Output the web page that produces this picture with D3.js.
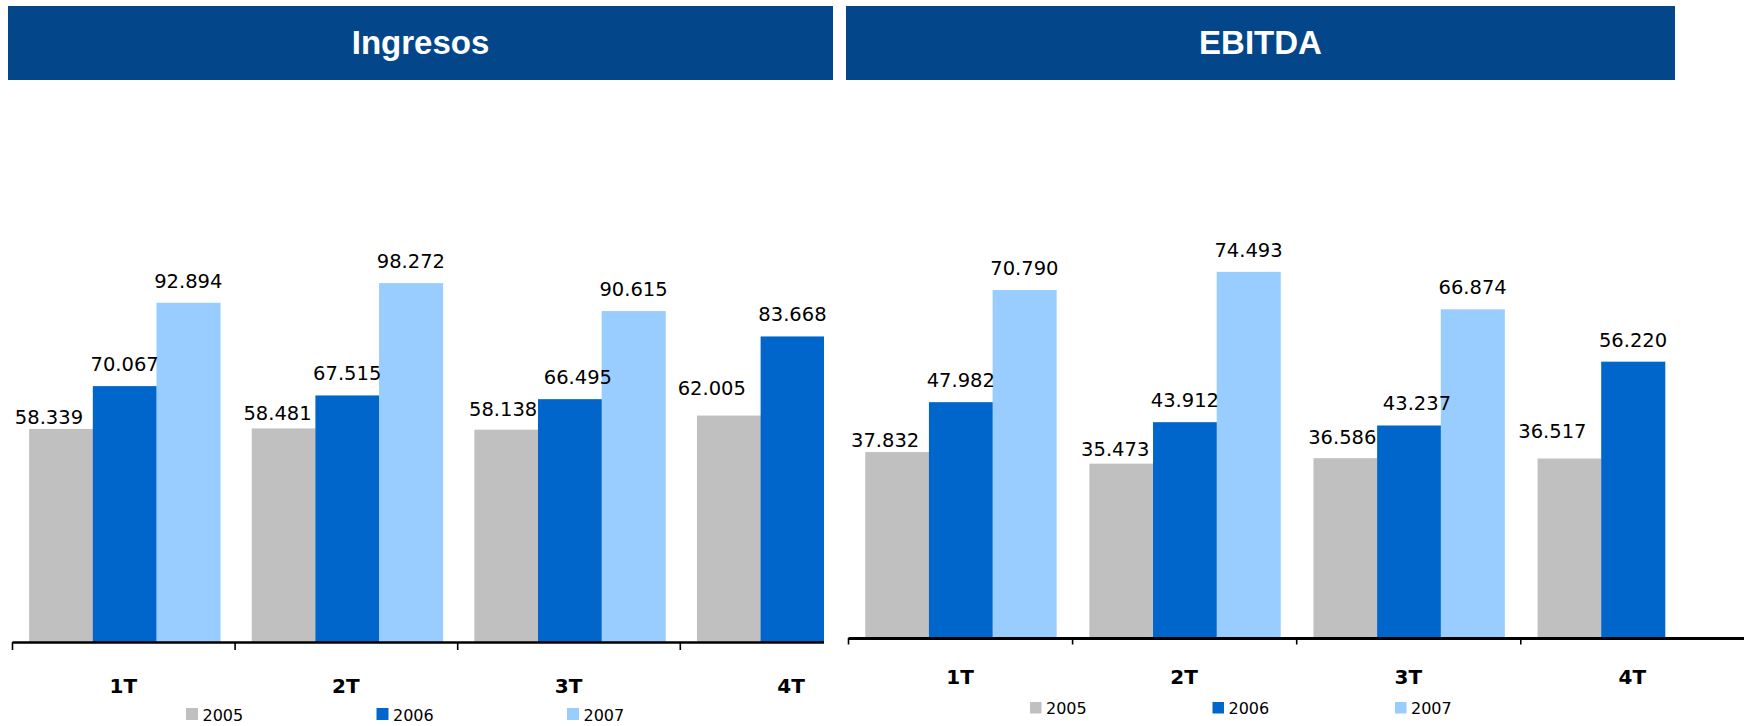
<!DOCTYPE html>
<html>
<head>
<meta charset="utf-8">
<script src="https://cdn.jsdelivr.net/npm/d3@7"></script>
<style>
  body { margin:0; background:#fff; }
  svg text { font-family:"DejaVu Sans", Verdana, sans-serif; }
</style>
</head>
<body>
<svg id="chart" width="1744" height="726"></svg>
<script>
// data (miles de euros)
var quarters = ['1T','2T','3T','4T'];
var years = ['2005','2006','2007'];
var ingresos2005 = [58339, 58481, 58138, 62005];
var ingresos2006 = [70067, 67515, 66495, 83668];
var ingresos2007 = [92894, 98272, 90615, null];
var ebitda2005 = [37832, 35473, 36586, 36517];
var ebitda2006 = [47982, 43912, 43237, 56220];
var ebitda2007 = [70790, 74493, 66874, null];

var yearColors = ['#C0C0C0','#0066CC','#99CCFF'];

// hand placed label nudges of the original slide (2005 labels sit lower/left)
var nudgeDx2005 = [-12,-6,-3,-17];
var nudgeGap2005 = [5,8,14,21];

var es = d3.formatLocale({decimal:',', thousands:'.', grouping:[3], currency:['','€']});
var fmt = es.format(',d');

var svg = d3.select('#chart');

drawPanel({
  title:'Ingresos', series:[ingresos2005,ingresos2006,ingresos2007],
  bannerX:[8,833], xRange:[12,902.4], clipRight:824,
  baseline:642, pxPerUnit:3.652/1000, catY:693,
  axisW:2.6, tickLen:8, legendX:186, legendStep:190.5, legendY:708, legendSize:12
});
drawPanel({
  title:'EBITDA', series:[ebitda2005,ebitda2006,ebitda2007],
  bannerX:[846,1675], xRange:[848,1744.4], clipRight:1744,
  baseline:638, pxPerUnit:4.915/1000, catY:684,
  axisW:3, tickLen:6.5, legendX:1030, legendStep:182.5, legendY:702, legendSize:11.5
});

function drawPanel(o) {
  var id = 'clip'+o.title;
  svg.append('clipPath').attr('id',id)
    .append('rect').attr('x',0).attr('y',0).attr('width',o.clipRight).attr('height',726);

  // banner
  svg.append('rect')
    .attr('x',o.bannerX[0]).attr('y',6)
    .attr('width',o.bannerX[1]-o.bannerX[0]).attr('height',74)
    .attr('fill','#03478A');
  svg.append('text')
    .attr('x',(o.bannerX[0]+o.bannerX[1])/2).attr('y',53.5)
    .attr('text-anchor','middle')
    .style('font-family','"Liberation Sans", Arial, sans-serif')
    .style('font-weight','bold').style('font-size','33px')
    .attr('fill','#fff')
    .text(o.title);

  var g = svg.append('g').attr('clip-path','url(#'+id+')');

  var x0 = d3.scaleBand().domain(quarters).range(o.xRange).padding(0);
  var bw = x0.bandwidth();
  var x1 = d3.scaleBand().domain(years).range([bw*0.077, bw*0.077+191]).padding(0);
  var y = d3.scaleLinear().domain([0,100000])
    .range([o.baseline, o.baseline-100000*o.pxPerUnit]);

  var rows = [];
  quarters.forEach(function(q,i) {
    years.forEach(function(yr,k) {
      var v = o.series[k][i];
      if (v!==null) rows.push({q:q, i:i, yr:yr, k:k, v:v});
    });
  });

  g.selectAll('rect.bar').data(rows).enter().append('rect')
    .attr('class','bar')
    .attr('x',function(d) {return x0(d.q)+x1(d.yr);})
    .attr('y',function(d) {return y(d.v);})
    .attr('width',x1.bandwidth()+0.4)
    .attr('height',function(d) {return y(0)-y(d.v);})
    .attr('fill',function(d) {return yearColors[d.k];});

  svg.append('g').selectAll('text').data(rows).enter().append('text')
    .attr('x',function(d) {
      var dx = 0;
      if (d.k===0) dx = nudgeDx2005[d.i];
      if (d.k===1 && d.i===2) dx = 8;
      return x0(d.q)+x1(d.yr)+x1.bandwidth()/2+dx;
    })
    .attr('y',function(d) {
      var gap = (d.k===0) ? nudgeGap2005[d.i] : 15;
      return y(d.v)-gap;
    })
    .attr('text-anchor','middle')
    .style('font-size','19.5px')
    .attr('fill','#000')
    .text(function(d) {return fmt(d.v);});

  // category axis, ticks between categories
  var xb = d3.scaleLinear().domain([0,4]).range(o.xRange);
  var axis = d3.axisBottom(xb).tickValues([0,1,2,3,4]).tickFormat('')
    .tickSizeInner(o.tickLen).tickSizeOuter(0);
  var ax = g.append('g').attr('transform','translate(0,'+o.baseline+')').call(axis);
  ax.select('.domain').attr('stroke','#000').attr('stroke-width',o.axisW);
  ax.selectAll('.tick line').attr('stroke','#000').attr('stroke-width',1.6);

  svg.append('g').selectAll('text').data(quarters).enter().append('text')
    .attr('x',function(d) {return x0(d)+bw/2;})
    .attr('y',o.catY)
    .attr('text-anchor','middle')
    .style('font-size','20px').style('font-weight','bold')
    .attr('fill','#000')
    .text(function(d) {return d;});

  // legend
  var lg = svg.append('g').selectAll('g').data(years).enter().append('g')
    .attr('transform',function(d,k) {return 'translate('+(o.legendX+k*o.legendStep)+','+o.legendY+')';});
  lg.append('rect').attr('width',o.legendSize).attr('height',o.legendSize)
    .attr('fill',function(d,k) {return yearColors[k];});
  lg.append('text').attr('x',o.legendSize+4.5).attr('y',o.legendSize+0.5)
    .style('font-size','16px').attr('fill','#000')
    .text(function(d) {return d;});
}
</script>
</body>
</html>
